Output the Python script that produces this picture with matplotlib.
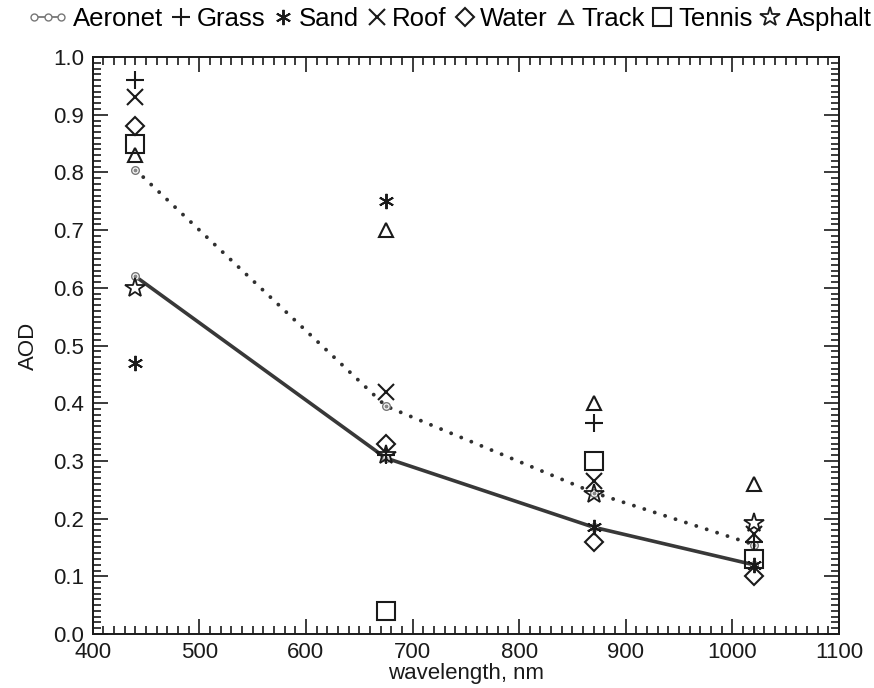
import numpy as np
import matplotlib.pyplot as plt
from matplotlib.lines import Line2D
from matplotlib.legend_handler import HandlerLine2D
from matplotlib.ticker import MultipleLocator

plt.rcParams['font.family'] = ['Liberation Sans', 'DejaVu Sans']

# AOD by wavelength for each surface type
wavelength = [440, 675, 870, 1020]
aeronet_hi = [0.805, 0.395, 0.245, 0.155]
aeronet_lo = [0.62, 0.305, 0.185, 0.12]
grass = [0.96, 0.31, 0.366, 0.16]
sand = [0.47, 0.75, 0.185, 0.12]
roof = [0.93, 0.42, 0.265, 0.173]
water = [0.88, 0.33, 0.16, 0.10]
track = [0.83, 0.70, 0.40, 0.26]
tennis = [0.85, 0.04, 0.30, 0.13]
asphalt = [0.60, 0.31, 0.243, 0.193]


class WideLineHandler(HandlerLine2D):
    """Line handle that reaches further left than the other handles."""
    extra = 14

    def create_artists(self, legend, orig_handle, xdescent, ydescent,
                       width, height, fontsize, trans):
        return super().create_artists(legend, orig_handle, xdescent + self.extra,
                                      ydescent, width + self.extra, height,
                                      fontsize, trans)


fig = plt.figure(figsize=(8.74, 6.88), dpi=100)
ax = fig.add_axes([0.106, 0.0785, 0.854, 0.8385])

ink = '#1a1a1a'
ax.plot(wavelength, aeronet_hi, color='#303030', lw=2.8,
        linestyle=(0, (0.01, 2.8)), dash_capstyle='round', zorder=2)
ax.plot(wavelength, aeronet_lo, color='#383838', lw=2.6, zorder=2)
for ys in (aeronet_hi, aeronet_lo):
    ax.plot(wavelength, ys, ls='none', marker='o', ms=5.5, mfc='white',
            mec='#777777', mew=1.0, zorder=3)
    ax.plot(wavelength, ys, ls='none', marker='o', ms=1.8, color='#888888', zorder=3)

asterisk = (6, 2, 0)
series = [
    ('Grass', grass, dict(marker='+', ms=13, mew=1.5)),
    ('Sand', sand, dict(marker=asterisk, ms=11, mew=1.4)),
    ('Roof', roof, dict(marker='x', ms=12, mew=1.5)),
    ('Water', water, dict(marker='D', ms=9, mew=1.5, mfc='none')),
    ('Track', track, dict(marker='^', ms=9.5, mew=1.5, mfc='none')),
    ('Tennis', tennis, dict(marker='s', ms=12.5, mew=1.5, mfc='none')),
    ('Asphalt', asphalt, dict(marker='*', ms=15, mew=1.3, mfc='none')),
]
handles = [Line2D([], [], color='#777777', lw=1.3, marker='o', ms=5,
                  mfc='white', mec='#777777', mew=1.0)]
labels = ['Aeronet']
for name, ys, style in series:
    ax.plot(wavelength, ys, ls='none', color=ink, mec=ink, zorder=4, **style)
    handles.append(Line2D([], [], ls='none', color=ink, mec=ink, **style))
    labels.append(name)

ax.set_xlim(400, 1100)
ax.set_ylim(0, 1.0)
ax.xaxis.set_major_locator(MultipleLocator(100))
ax.xaxis.set_minor_locator(MultipleLocator(10))
ax.yaxis.set_major_locator(MultipleLocator(0.1))
ax.yaxis.set_minor_locator(MultipleLocator(0.01))
ax.yaxis.set_major_formatter(lambda v, p: f'{v:.1f}')
ax.tick_params(which='both', direction='in', top=True, right=True, width=1.2,
               color=ink, labelsize=16, labelcolor=ink)
ax.tick_params(which='major', length=11, pad=6)
ax.tick_params(which='minor', length=5.5)
for sp in ax.spines.values():
    sp.set_linewidth(1.4)
    sp.set_color(ink)

ax.set_xlabel('wavelength, nm', fontsize=16, color=ink, labelpad=0)
ax.set_ylabel('AOD', fontsize=16, color=ink, labelpad=10)

fig.legend(handles, labels, loc='upper left', bbox_to_anchor=(0.035, 1.012),
           ncol=8, frameon=False, handlelength=0.9,
           handletextpad=0.15, columnspacing=0.25, borderaxespad=0.2,
           handler_map={handles[0]: WideLineHandler(numpoints=3)},
           prop={'size': 18.5})

fig.savefig('out.png', dpi=100)
